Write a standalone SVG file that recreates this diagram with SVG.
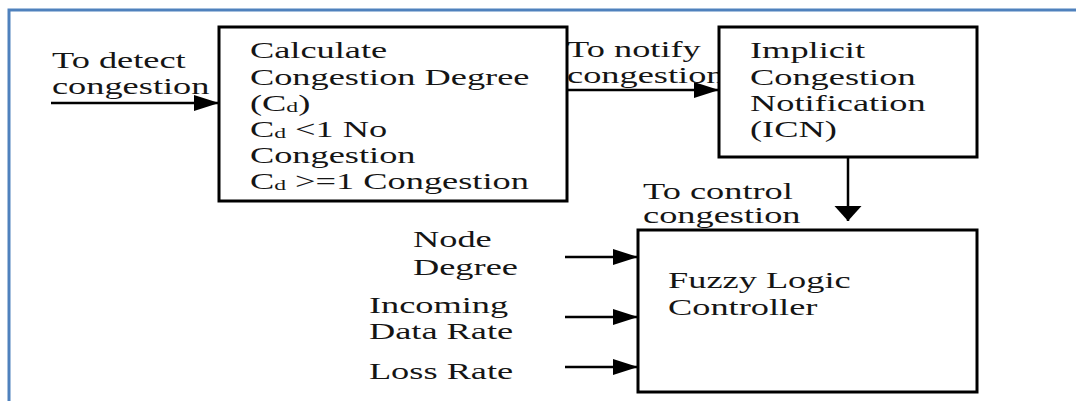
<svg xmlns="http://www.w3.org/2000/svg" width="1076" height="401" viewBox="0 0 1076 401">
<style>
.box{fill:#fff;stroke:#000;stroke-width:3}
.t{font-family:"Liberation Serif","Times New Roman",serif;font-size:23px;fill:#151515}
.sub{font-size:15px}
.ln{stroke:#000;stroke-width:2.5;fill:none}
</style>
<defs>
<marker id="mh" markerUnits="userSpaceOnUse" markerWidth="26" markerHeight="16" refX="25" refY="8" orient="auto"><path d="M0,0 L25,8 L0,16 z" fill="#000"/></marker>
<marker id="mv" markerUnits="userSpaceOnUse" markerWidth="16" markerHeight="28" refX="15" refY="13.5" orient="auto"><path d="M0,0 L15,13.5 L0,27 z" fill="#000"/></marker>
</defs>
<rect width="1076" height="401" fill="#fff"/>
<path d="M9,401 V10 H1076" fill="none" stroke="#4f81bd" stroke-width="3"/>
<g id="connectors">
<line class="ln" x1="51" y1="103" x2="219" y2="103" marker-end="url(#mh)"/>
<line class="ln" x1="567" y1="90" x2="719" y2="90" marker-end="url(#mh)"/>
<line class="ln" x1="848" y1="157" x2="848" y2="221" stroke-width="3" marker-end="url(#mv)"/>
<line class="ln" x1="565" y1="257" x2="638" y2="257" marker-end="url(#mh)"/>
<line class="ln" x1="565" y1="317" x2="638" y2="317" marker-end="url(#mh)"/>
<line class="ln" x1="565" y1="367" x2="638" y2="367" marker-end="url(#mh)"/>
<g class="t" transform="scale(1.58 1)">
<text x="32.9" y="68">To detect</text>
<text x="32.9" y="94">congestion</text>
<text x="358.9" y="57">To notify</text>
<text x="358.9" y="83">congestion</text>
<text x="407" y="199">To control</text>
<text x="407" y="223">congestion</text>
</g>
</g>
<g id="calc">
<rect class="box" x="219" y="27" width="348" height="174"/>
<g class="t" transform="scale(1.58 1)">
<text x="158.2" y="58">Calculate</text>
<text x="158.2" y="85">Congestion Degree</text>
<text x="158.2" y="111">(C<tspan class="sub" dy="1">d</tspan><tspan dy="-1">)</tspan></text>
<text x="158.2" y="137">C<tspan class="sub" dy="1">d</tspan><tspan dy="-1"> &lt;1 No</tspan></text>
<text x="158.2" y="163">Congestion</text>
<text x="158.2" y="189">C<tspan class="sub" dy="1">d</tspan><tspan dy="-1"> &gt;=1 Congestion</tspan></text>
</g>
</g>
<g id="icn">
<rect class="box" x="719" y="27" width="258" height="130"/>
<g class="t" transform="scale(1.58 1)">
<text x="474.7" y="58">Implicit</text>
<text x="474.7" y="85">Congestion</text>
<text x="474.7" y="111">Notification</text>
<text x="474.7" y="137">(ICN)</text>
</g>
</g>
<g id="flc">
<rect class="box" x="638" y="230" width="339" height="162"/>
<g class="t" transform="scale(1.58 1)">
<text x="422.8" y="288">Fuzzy Logic</text>
<text x="422.8" y="315">Controller</text>
</g>
</g>
<g id="inputs" class="t" transform="scale(1.58 1)">
<text x="261.4" y="247">Node</text>
<text x="261.4" y="275">Degree</text>
<text x="233.5" y="313">Incoming</text>
<text x="233.5" y="339">Data Rate</text>
<text x="233.5" y="379">Loss Rate</text>
</g>
</svg>
